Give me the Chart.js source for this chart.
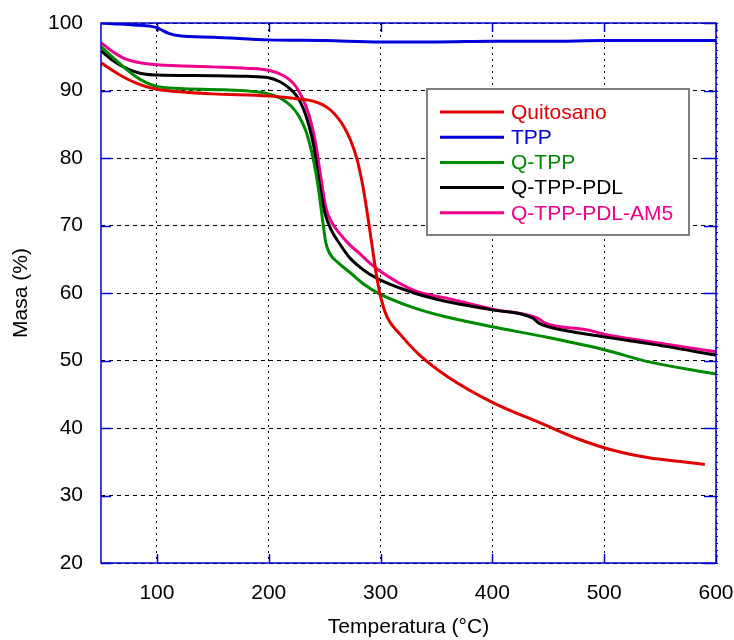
<!DOCTYPE html>
<html><head><meta charset="utf-8">
<script src="https://cdn.jsdelivr.net/npm/chart.js@4/dist/chart.umd.min.js"></script>
<style>html,body{margin:0;padding:0;background:#fff;overflow:hidden}#wrap{width:734px;height:640px}</style>
</head><body><div id="wrap"><canvas id="c" width="734" height="640"></canvas></div>
<script>
const seriesNames = ['Quitosano', 'TPP', 'Q-TPP', 'Q-TPP-PDL', 'Q-TPP-PDL-AM5'];
const seriesColors = ['#E00000', '#0000DD', '#008A00', '#000000', '#F0008C'];

const tempQuitosano = [50,60,70,80,90,100,120,150,200,220,230,240,248,256,262,267,273,279,284,288,292,296,300,306,318,335,360,400,445,478,508,540,570,590];
const masaQuitosano = [94.1,93,92,91.2,90.6,90.2,89.8,89.5,89.2,88.9,88.7,88.4,87.9,87,85.9,84.7,82.7,79.8,76,72,67.5,63,59.5,56.4,53.8,50.8,47.6,43.8,40.6,38.3,36.7,35.6,35,34.6];

const tempTPP = [50,60,80,95,100,105,110,120,150,200,250,300,350,400,450,500,550,600];
const masaTPP = [100,99.9,99.7,99.5,99.3,98.9,98.5,98.1,97.9,97.5,97.4,97.2,97.2,97.3,97.3,97.4,97.4,97.4];

const tempQTPP = [50,60,70,80,90,100,120,160,200,210,220,227,233,238,242,245,248.5,251,254,262,273,285,300,330,360,400,450,500,540,600];
const masaQTPP = [96.5,95,93.5,92.2,91.2,90.6,90.3,90.1,89.5,88.9,87.7,86.2,84.1,81.2,78,74.8,70.4,67.5,66,64.5,63,61.3,59.8,57.8,56.4,55,53.4,51.6,49.8,48];

const tempQTPPPDL = [50,60,70,80,90,100,150,180,200,210,218,225,231,236,240,245,250,256,263,272,281,290,300,330,360,400,436,442,450,500,540,600];
const masaQTPPPDL = [95.9,94.5,93.5,92.8,92.4,92.3,92.2,92.1,91.9,91.3,90.4,89.2,87.3,84.8,82,76.5,72,69.3,67.4,65.3,63.9,62.8,61.9,60,58.7,57.5,56.3,55.5,55,53.5,52.5,50.8];

const tempQTPPPDLAM5 = [50,60,70,85,100,150,180,200,212,220,227,233,238,242,246,251,257,263,272,281,290,300,330,360,400,440,448,486,500,540,600];
const masaQTPPPDLAM5 = [97.1,95.8,94.8,94.1,93.8,93.5,93.3,93,92.3,91.4,89.9,87.8,85.2,82.1,77.8,72.7,70.3,68.9,67.2,65.9,64.5,63.2,60.4,59.2,57.6,56.3,55.5,54.5,53.9,52.8,51.3];

const xTicks = [100, 200, 300, 400, 500, 600];
const yTicks = [20, 30, 40, 50, 60, 70, 80, 90, 100];
const xTitle = 'Temperatura (°C)';
const yTitle = 'Masa (%)';

const temps = [tempQuitosano, tempTPP, tempQTPP, tempQTPPPDL, tempQTPPPDLAM5];
const masas = [masaQuitosano, masaTPP, masaQTPP, masaQTPPPDL, masaQTPPPDLAM5];

const FONT = 'Arial, "Liberation Sans", sans-serif';
const FRAME = '#0000CC';

const datasets = seriesNames.map((name, i) => ({
  label: name,
  data: temps[i].map((t, j) => ({x: t, y: masas[i][j]})),
  borderColor: seriesColors[i],
  backgroundColor: seriesColors[i],
  borderWidth: 3,
  pointRadius: 0,
  fill: false,
  cubicInterpolationMode: 'monotone'
}));

const framePlugin = {
  id: 'frame',
  afterDatasetsDraw(chart) {
    const {ctx, chartArea: a, scales} = chart;
    ctx.save();
    ctx.strokeStyle = FRAME;
    ctx.lineWidth = 1.5;
    ctx.setLineDash([]);
    ctx.beginPath();
    xTicks.forEach(v => {
      const px = Math.round(scales.x.getPixelForValue(v)) + 0.5;
      ctx.moveTo(px, a.bottom); ctx.lineTo(px, a.bottom - 9);
      ctx.moveTo(px, a.top); ctx.lineTo(px, a.top + 9);
    });
    yTicks.forEach(v => {
      const py = Math.round(scales.y.getPixelForValue(v)) + 0.5;
      ctx.moveTo(a.left, py); ctx.lineTo(a.left + 10, py);
      ctx.moveTo(a.right, py); ctx.lineTo(a.right - 12, py);
    });
    ctx.stroke();
    ctx.lineWidth = 1;
    ctx.beginPath();
    for (let v = yTicks[0]; v <= yTicks[yTicks.length - 1]; v += 1) {
      const py = Math.round(scales.y.getPixelForValue(v)) + 0.5;
      ctx.moveTo(a.right, py); ctx.lineTo(a.right + 2, py);
    }
    ctx.stroke();
    ctx.lineWidth = 1.5;
    ctx.strokeRect(a.left, a.top, a.right - a.left, a.bottom - a.top);
    ctx.restore();
  },
  afterDraw(chart) {
    const {ctx, chartArea: a} = chart;
    const bx = a.left + 326, by = a.top + 66, bw = 262, bh = 146;
    ctx.save();
    ctx.fillStyle = '#fff';
    ctx.fillRect(bx, by, bw, bh);
    ctx.strokeStyle = '#808080';
    ctx.lineWidth = 2;
    ctx.setLineDash([]);
    ctx.strokeRect(bx, by, bw, bh);
    ctx.font = '21px ' + FONT;
    ctx.textBaseline = 'middle';
    ctx.textAlign = 'left';
    chart.data.datasets.forEach((ds, i) => {
      const y = by + 23 + i * 25.2;
      ctx.strokeStyle = ds.borderColor;
      ctx.lineWidth = 3;
      ctx.beginPath();
      ctx.moveTo(bx + 13, y); ctx.lineTo(bx + 77, y);
      ctx.stroke();
      ctx.fillStyle = ds.borderColor;
      ctx.fillText(ds.label, bx + 84, y + 1);
    });
    ctx.restore();
  }
};

new Chart(document.getElementById('c'), {
  type: 'line',
  data: {datasets},
  options: {
    responsive: false,
    animation: false,
    devicePixelRatio: 1,
    layout: {padding: {top: 23, right: 18, left: 0, bottom: 0}},
    plugins: {legend: {display: false}, tooltip: {enabled: false}},
    scales: {
      x: {
        type: 'linear', min: 50, max: 600,
        afterBuildTicks: s => { s.ticks = xTicks.map(v => ({value: v})); },
        afterFit: s => { s.height = 77; s.paddingLeft = 0; s.paddingRight = 0; },
        grid: {color: '#000', lineWidth: 1, drawTicks: false},
        border: {display: false, dash: [2, 4]},
        ticks: {font: {family: FONT, size: 21}, color: '#000', padding: 18, maxRotation: 0, autoSkip: false},
        title: {display: true, text: xTitle, font: {family: FONT, size: 21}, color: '#000', padding: {top: 0, bottom: 0}}
      },
      y: {
        type: 'linear', min: 20, max: 100,
        afterBuildTicks: s => { s.ticks = yTicks.map(v => ({value: v})); },
        afterFit: s => { s.width = 101; s.paddingTop = 0; s.paddingBottom = 0; },
        grid: {color: '#000', lineWidth: 1, drawTicks: false},
        border: {display: false, dash: [4, 4]},
        ticks: {font: {family: FONT, size: 21}, color: '#000', padding: 18, autoSkip: false},
        title: {display: true, text: yTitle, font: {family: FONT, size: 21}, color: '#000', padding: {top: 9, bottom: 0}}
      }
    }
  },
  plugins: [framePlugin]
});
</script>
</body></html>
